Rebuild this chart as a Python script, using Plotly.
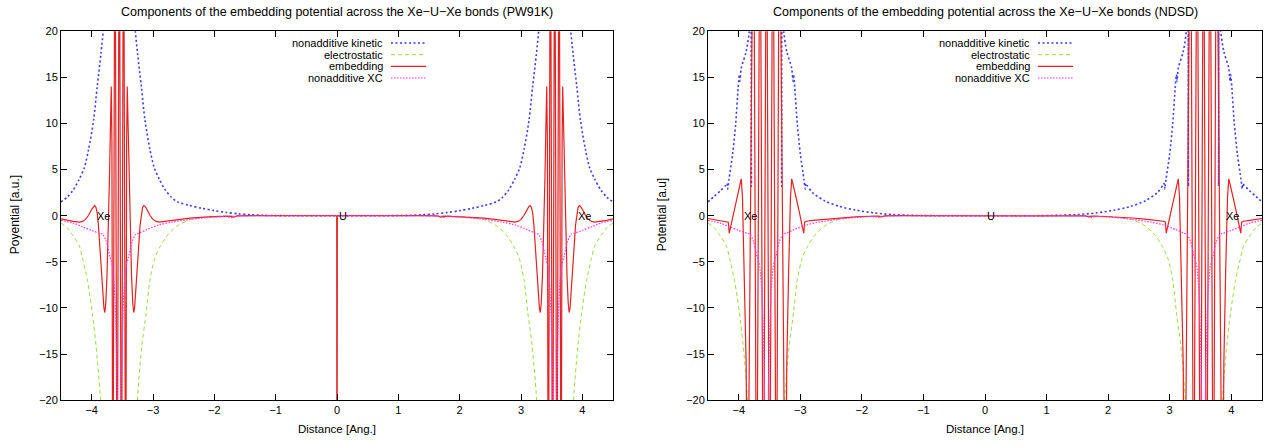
import plotly.graph_objects as go

# ---------------- data ----------------
# PW91K panel: nonadditive kinetic
x_kin_pw = [-4.5, -4.4, -4.3, -4.2, -4.12, -4.05, -3.97, -3.91, -3.85, -3.8, -3.75, -3.55,
            -3.35, -3.3, -3.25, -3.19, -3.13, -3.05, -2.98, -2.9, -2.8, -2.7, -2.6,
            -2.4, -2.2, -2.0, -1.8, -1.6, -1.4, -1.2, -0.8, 0.0,
            0.8, 1.2, 1.4, 1.6, 1.8, 2.0, 2.2, 2.4,
            2.6, 2.7, 2.8, 2.9, 2.98, 3.05, 3.13, 3.19, 3.25, 3.3, 3.35, 3.55,
            3.75, 3.8, 3.85, 3.91, 3.97, 4.05, 4.12, 4.2, 4.3, 4.4, 4.5]
y_kin_pw = [1.5, 2.0, 2.8, 4.0, 5.2, 7.2, 10.3, 14.0, 17.5, 21, 30, 60,
            30, 21, 17.5, 14.0, 10.3, 7.2, 5.2, 4.0, 2.8, 2.0, 1.5,
            1.1, 0.8, 0.55, 0.35, 0.2, 0.1, 0.04, 0.0, 0.0,
            0.0, 0.04, 0.1, 0.2, 0.35, 0.55, 0.8, 1.1,
            1.5, 2.0, 2.8, 4.0, 5.2, 7.2, 10.3, 14.0, 17.5, 21, 30, 60,
            30, 21, 17.5, 14.0, 10.3, 7.2, 5.2, 4.0, 2.8, 2.0, 1.5]

# electrostatic (same in both panels)
x_el = [-4.5, -4.4, -4.3, -4.2, -4.15, -4.07, -3.99, -3.93, -3.86, -3.8, -3.55,
        -3.3, -3.25, -3.18, -3.11, -3.05, -2.97, -2.88, -2.75, -2.6, -2.4, -2.2, -2.0, -1.7, -1.0, 0.0,
        1.0, 1.7, 2.0, 2.2, 2.4, 2.6, 2.75, 2.88, 2.97, 3.05, 3.11, 3.18, 3.25, 3.3,
        3.55, 3.8, 3.86, 3.93, 3.99, 4.07, 4.15, 4.2, 4.3, 4.4, 4.5]
y_el = [-0.8, -1.3, -2.2, -3.3, -4.6, -7.0, -10.5, -14.0, -19.6, -30, -60,
        -30, -19.6, -14.0, -10.5, -7.0, -4.6, -3.3, -2.0, -1.1, -0.45, -0.2, -0.08, -0.02, 0.0, 0.0,
        0.0, -0.02, -0.08, -0.2, -0.45, -1.1, -2.0, -3.3, -4.6, -7.0, -10.5, -14.0, -19.6, -30,
        -60, -30, -19.6, -14.0, -10.5, -7.0, -4.6, -3.3, -2.2, -1.3, -0.8]

# nonadditive XC (same in both panels)
x_xc = [-4.5, -4.3, -4.15, -4.0, -3.87, -3.82, -3.76, -3.7, -3.66, -3.62, -3.58, -3.55,
        -3.52, -3.48, -3.44, -3.4, -3.34, -3.28, -3.23, -3.1, -2.9, -2.7, -2.4, -2.1, -1.8,
        -1.72, -1.65, -1.4, -1.0, 0.0,
        1.0, 1.4, 1.65, 1.72, 1.8, 2.1, 2.4, 2.7, 2.9, 3.1, 3.23, 3.28, 3.34, 3.4, 3.44, 3.48, 3.52,
        3.55, 3.58, 3.62, 3.66, 3.7, 3.76, 3.82, 3.87, 4.0, 4.15, 4.3, 4.5]
y_xc = [-0.5, -0.8, -1.2, -1.6, -1.9, -2.0, -2.8, -4.5, -5.5, -9, -20, -40,
        -20, -9, -5.5, -4.5, -2.8, -2.0, -1.9, -1.5, -1.0, -0.7, -0.4, -0.2, -0.1,
        -0.2, -0.05, -0.01, 0.0, 0.0,
        0.0, -0.01, -0.05, -0.2, -0.1, -0.2, -0.4, -0.7, -1.0, -1.5, -1.9, -2.0, -2.8, -4.5, -5.5, -9, -20,
        -40, -20, -9, -5.5, -4.5, -2.8, -2.0, -1.9, -1.6, -1.2, -0.8, -0.5]

# PW91K embedding
x_emb_pw = [-4.5, -4.4, -4.3, -4.2, -4.15, -4.1, -4.05, -4.0, -3.97, -3.95, -3.93, -3.91, -3.89,
            -3.86, -3.83, -3.8, -3.785, -3.77, -3.75, -3.73, -3.71, -3.69, -3.68, -3.67,
            -3.655, -3.62, -3.585, -3.55, -3.515, -3.48, -3.445,
            -3.43, -3.42, -3.41, -3.39, -3.37, -3.35, -3.33, -3.315, -3.3, -3.27, -3.24, -3.21,
            -3.19, -3.17, -3.15, -3.13, -3.1, -3.05, -3.0, -2.95, -2.9, -2.8, -2.6, -2.4, -2.1,
            -1.85, -1.75, -1.69, -1.63, -1.4, -0.005, 0.0, 0.005,
            1.4, 1.63, 1.69, 1.75, 1.85, 2.1, 2.4, 2.6, 2.8, 2.9, 2.95, 3.0, 3.05, 3.1, 3.13,
            3.15, 3.17, 3.19, 3.21, 3.24, 3.27, 3.3, 3.315, 3.33, 3.35, 3.37, 3.39, 3.41, 3.42, 3.43,
            3.445, 3.48, 3.515, 3.55, 3.585, 3.62, 3.655,
            3.67, 3.68, 3.69, 3.71, 3.73, 3.75, 3.77, 3.785, 3.8, 3.83, 3.86, 3.89, 3.91, 3.93,
            3.95, 3.97, 4.0, 4.05, 4.1, 4.15, 4.2, 4.3, 4.4, 4.5]
y_emb_pw = [-0.35, -0.5, -0.62, -0.7, -0.62, -0.4, 0.05, 0.7, 1.0, 1.1, 0.9, 0.3, -1.0,
            -4.0, -7.5, -10.0, -10.5, -9.5, -6.5, -2.0, 4.0, 11.0, 14.0, 8.0,
            -40, 40, -40, 40, -40, 40, -40,
            8.0, 14.0, 11.0, 4.0, -2.0, -6.5, -9.5, -10.5, -10.0, -7.5, -4.0, -1.0,
            0.3, 0.9, 1.1, 1.0, 0.7, 0.05, -0.4, -0.62, -0.7, -0.62, -0.42, -0.27, -0.13,
            -0.08, -0.04, -0.15, -0.02, 0.0, 0.0, -60, 0.0,
            0.0, -0.02, -0.15, -0.04, -0.08, -0.13, -0.27, -0.42, -0.62, -0.7, -0.62, -0.4, 0.05, 0.7, 1.0,
            1.1, 0.9, 0.3, -1.0, -4.0, -7.5, -10.0, -10.5, -9.5, -6.5, -2.0, 4.0, 11.0, 14.0, 8.0,
            -40, 40, -40, 40, -40, 40, -40,
            8.0, 14.0, 11.0, 4.0, -2.0, -6.5, -9.5, -10.5, -10.0, -7.5, -4.0, -1.0, 0.3, 0.9,
            1.1, 1.0, 0.7, 0.05, -0.4, -0.62, -0.7, -0.62, -0.5, -0.35]

# NDSD panel: nonadditive kinetic
x_kin_nd = [-4.5, -4.4, -4.3, -4.21, -4.19, -4.18, -4.16, -4.1, -4.05, -4.01, -3.99, -3.98, -3.96,
            -3.88, -3.83, -3.805, -3.795, -3.785, -3.55, -3.315, -3.305, -3.295, -3.27, -3.22,
            -3.14, -3.12, -3.11, -3.09, -3.05, -3.0, -2.94, -2.92, -2.91, -2.89, -2.8, -2.6,
            -2.36, -2.1, -1.8, -1.5, -1.2, -0.8, 0.0,
            0.8, 1.2, 1.5, 1.8, 2.1, 2.36, 2.6, 2.8, 2.89, 2.91, 2.92, 2.94, 3.0, 3.05, 3.09,
            3.11, 3.12, 3.14, 3.22, 3.27, 3.295, 3.305, 3.315, 3.55, 3.785, 3.795, 3.805, 3.83,
            3.88, 3.96, 3.98, 3.99, 4.01, 4.05, 4.1, 4.16, 4.18, 4.19, 4.21, 4.3, 4.4, 4.5]
y_kin_nd = [1.5, 2.1, 2.7, 3.3, 3.5, 2.9, 3.9, 6.7, 10.0, 13.9, 15.3, 14.6, 16.0,
            17.8, 20, 24, 3.2, 24, 60, 24, 3.2, 24, 20, 17.8,
            16.0, 14.6, 15.3, 13.9, 10.0, 6.7, 3.9, 2.9, 3.5, 3.3, 2.5, 1.6,
            1.0, 0.6, 0.3, 0.12, 0.04, 0.0, 0.0,
            0.0, 0.04, 0.12, 0.3, 0.6, 1.0, 1.6, 2.5, 3.3, 3.5, 2.9, 3.9, 6.7, 10.0, 13.9,
            15.3, 14.6, 16.0, 17.8, 20, 24, 3.2, 24, 60, 24, 3.2, 24, 20,
            17.8, 16.0, 14.6, 15.3, 13.9, 10.0, 6.7, 3.9, 2.9, 3.5, 3.3, 2.7, 2.1, 1.5]

# NDSD embedding
x_emb_nd = [-4.5, -4.4, -4.3, -4.2, -4.17, -4.155, -4.12, -4.08, -4.03, -3.98, -3.96, -3.94,
            -3.91, -3.88, -3.86,
            -3.76, -3.71, -3.655, -3.6, -3.55, -3.5, -3.445, -3.39, -3.34,
            -3.24, -3.22, -3.19, -3.16, -3.14, -3.12, -3.07, -3.02, -2.98, -2.945, -2.93, -2.9,
            -2.8, -2.6, -2.4, -2.1, -1.85, -1.75, -1.69, -1.63, -1.4, 0.0,
            1.4, 1.63, 1.69, 1.75, 1.85, 2.1, 2.4, 2.6, 2.8, 2.9, 2.93, 2.945, 2.98, 3.02, 3.07,
            3.12, 3.14, 3.16, 3.19, 3.22, 3.24,
            3.34, 3.39, 3.445, 3.5, 3.55, 3.6, 3.655, 3.71, 3.76,
            3.86, 3.88, 3.91, 3.94, 3.96, 3.98, 4.03, 4.08, 4.12, 4.155, 4.17, 4.2, 4.3, 4.4, 4.5]
y_emb_nd = [-0.3, -0.4, -0.5, -0.6, -0.7, -1.9, -0.8, 0.5, 2.0, 3.5, 4.0, 2.0,
            -6.0, -16.0, -40,
            40, -40, 40, -40, 40, -40, 40, -40, 40,
            -40, -16.0, -6.0, 2.0, 4.0, 3.5, 2.0, 0.5, -0.8, -1.9, -0.7, -0.6,
            -0.5, -0.38, -0.25, -0.12, -0.06, -0.03, -0.12, -0.02, 0.0, 0.0,
            0.0, -0.02, -0.12, -0.03, -0.06, -0.12, -0.25, -0.38, -0.5, -0.6, -0.7, -1.9, -0.8, 0.5, 2.0,
            3.5, 4.0, 2.0, -6.0, -16.0, -40,
            40, -40, 40, -40, 40, -40, 40, -40, 40,
            -40, -16.0, -6.0, 2.0, 4.0, 3.5, 2.0, 0.5, -0.8, -1.9, -0.7, -0.6, -0.5, -0.4, -0.3]

series_names = ["nonadditive kinetic", "electrostatic", "embedding", "nonadditive XC"]
titles = ["Components of the embedding potential across the Xe\u2212U\u2212Xe bonds (PW91K)",
          "Components of the embedding potential across the Xe\u2212U\u2212Xe bonds (NDSD)"]
ytitles = ["Poyential [a.u.]", "Potential [a.u]"]
xtitle = "Distance [Ang.]"
x_ticks = [-4, -3, -2, -1, 0, 1, 2, 3, 4]
y_ticks = [-20, -15, -10, -5, 0, 5, 10, 15, 20]
atom_labels = ["Xe", "U", "Xe"]
atom_x = [[-3.95, 0.0, 3.9], [-3.95, 0.0, 3.89]]

# ---------------- styling ----------------
W, H = 1272, 446
FONT = "Liberation Sans, Arial, Helvetica, sans-serif"
C_KIN, C_EL, C_EMB, C_XC = "#3a3aff", "#99dd44", "#e32222", "#ff30ff"
styles = [
    dict(color=C_KIN, width=1.6, dash="2px,2.5px"),
    dict(color=C_EL, width=1.0, dash="4px,3px"),
    dict(color=C_EMB, width=1.2, dash="solid"),
    dict(color=C_XC, width=1.2, dash="1.5px,1.5px"),
]

panels = [
    dict(px=(61, 613), kin=(x_kin_pw, y_kin_pw), emb=(x_emb_pw, y_emb_pw)),
    dict(px=(708, 1262), kin=(x_kin_nd, y_kin_nd), emb=(x_emb_nd, y_emb_nd)),
]
PY_TOP, PY_BOT = 26, 405

fig = go.Figure()
annotations = []
shapes = []

for i, p in enumerate(panels):
    xa = "x" if i == 0 else "x2"
    ya = "y" if i == 0 else "y2"
    data = [p["kin"], (x_el, y_el), p["emb"], (x_xc, y_xc)]
    shapes_kind = ["spline", "spline", "linear", "spline"]
    for (xs, ys), st, name, shp in zip(data, styles, series_names, shapes_kind):
        fig.add_trace(go.Scatter(
            x=xs, y=ys, mode="lines", name=name, showlegend=False,
            line=dict(color=st["color"], width=st["width"], dash=st["dash"], shape=shp,
                      smoothing=0.8 if shp == "spline" else None),
            xaxis=xa, yaxis=ya, hoverinfo="skip"))

    x0, x1 = p["px"]
    dom = [x0 / W, x1 / W]
    ax = dict(domain=dom, range=[-4.5, 4.5], tickvals=x_ticks, ticks="inside", ticklen=6,
              mirror="allticks", showline=True, linecolor="black", linewidth=1,
              showgrid=False, zeroline=False, tickcolor="black",
              tickfont=dict(family=FONT, size=11, color="black"), fixedrange=True)
    ay = dict(domain=[1 - PY_BOT / H, 1 - PY_TOP / H], range=[-20, 20], tickvals=y_ticks,
              ticks="inside", ticklen=6, mirror="allticks", showline=True, linecolor="black",
              linewidth=1, showgrid=False, zeroline=False, tickcolor="black",
              tickfont=dict(family=FONT, size=11, color="black"), fixedrange=True,
              anchor=xa)
    ax["anchor"] = ya
    if i == 0:
        fig.update_layout(xaxis=ax, yaxis=ay)
    else:
        fig.update_layout(xaxis2=ax, yaxis2=ay)

    cx = (x0 + x1) / 2
    # title
    annotations.append(dict(text=titles[i], x=cx / W, y=1 - 6 / H, xref="paper", yref="paper",
                            xanchor="center", yanchor="middle", showarrow=False,
                            font=dict(family=FONT, size=12.5, color="black")))
    # x title
    annotations.append(dict(text=xtitle, x=cx / W, y=1 - 435 / H, xref="paper", yref="paper",
                            xanchor="center", yanchor="middle", showarrow=False,
                            font=dict(family=FONT, size=11.5, color="black")))
    # y title
    annotations.append(dict(text=ytitles[i], x=(x0 - 46) / W, y=1 - 215 / H, xref="paper",
                            yref="paper", xanchor="center", yanchor="middle", showarrow=False,
                            textangle=-90, font=dict(family=FONT, size=12, color="black")))
    # atom labels
    for lab, lx in zip(atom_labels, atom_x[i]):
        annotations.append(dict(text=lab, x=lx, y=0, xref=xa, yref=ya, xanchor="left",
                                yanchor="middle", showarrow=False,
                                font=dict(family=FONT, size=11, color="black")))
    # legend (text right-aligned, sample on the right, gnuplot style)
    text_right = x0 + 324
    for k, (name, st) in enumerate(zip(series_names, styles)):
        ry = 38 + 12 * k
        annotations.append(dict(text=name, x=text_right / W, y=1 - ry / H, xref="paper",
                                yref="paper", xanchor="right", yanchor="middle",
                                showarrow=False, font=dict(family=FONT, size=11, color="black")))
        shapes.append(dict(type="line", xref="paper", yref="paper",
                           x0=(text_right + 6) / W, x1=(text_right + 41) / W,
                           y0=1 - ry / H, y1=1 - ry / H,
                           line=dict(color=st["color"], width=st["width"], dash=st["dash"])))

fig.update_layout(
    width=W, height=H, margin=dict(l=0, r=0, t=0, b=0),
    paper_bgcolor="white", plot_bgcolor="white",
    annotations=annotations, shapes=shapes,
    font=dict(family=FONT, size=11, color="black"),
    showlegend=False,
)

fig.write_html("out.html", config={"displayModeBar": False},
               post_script="document.body.style.margin='0px';document.body.style.overflow='hidden';")
